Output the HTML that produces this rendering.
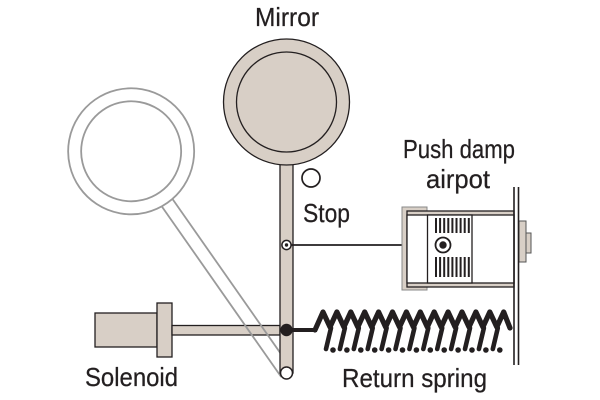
<!DOCTYPE html>
<html>
<head>
<meta charset="utf-8">
<style>
  html,body{margin:0;padding:0;background:#fff;}
  svg{display:block;}
  text{font-family:"Liberation Sans",sans-serif;font-size:26px;fill:#231f20;stroke:#231f20;stroke-width:0.25;}
</style>
</head>
<body>
<svg width="600" height="400" viewBox="0 0 600 400" xmlns="http://www.w3.org/2000/svg">
  <rect width="600" height="400" fill="#fff"/>

  <!-- Solenoid -->
  <rect x="95" y="313" width="62" height="34" fill="#d8cfc6" stroke="#231f20" stroke-width="1.3"/>
  <rect x="157" y="303" width="15" height="54" fill="#d8cfc6" stroke="#231f20" stroke-width="1.3"/>
  <rect x="172" y="325.5" width="108" height="9.5" fill="#d8cfc6" stroke="#231f20" stroke-width="1.3"/>

  <!-- Ghost mirror (rotated) -->
  <g transform="rotate(-35 287 373)" fill="none" stroke="#9a9a9a" stroke-width="1.8">
    <line x1="280" y1="164.5" x2="280" y2="373"/>
    <line x1="293" y1="164.5" x2="293" y2="373"/>
    <circle cx="286.5" cy="102" r="63" fill="#fff"/>
    <circle cx="286.5" cy="102" r="50"/>
  </g>

  <!-- Real stem -->
  <rect x="280" y="150" width="13" height="223" fill="#d8cfc6" stroke="#231f20" stroke-width="1.3"/>
  <!-- Mirror -->
  <circle cx="286.5" cy="102" r="63" fill="#d8cfc6" stroke="#231f20" stroke-width="1.3"/>
  <circle cx="286.5" cy="102" r="50" fill="#d8cfc6" stroke="#231f20" stroke-width="1.3"/>

  <!-- Bottom pivot -->
  <circle cx="286.5" cy="373" r="6" fill="#fff" stroke="#231f20" stroke-width="1.5"/>

  <!-- Stop -->
  <circle cx="311" cy="178" r="9" fill="none" stroke="#231f20" stroke-width="1.7"/>

  <!-- Damper link -->
  <line x1="291" y1="245" x2="436" y2="245" stroke="#231f20" stroke-width="1.8"/>
  <circle cx="286.5" cy="245" r="4.6" fill="#fff" stroke="#231f20" stroke-width="1.5"/>
  <circle cx="286.5" cy="245" r="1.7" fill="#231f20"/>

  <!-- Airpot -->
  <rect x="519" y="221" width="7" height="41" fill="#d8cfc6" stroke="#555" stroke-width="1"/>
  <rect x="526" y="233" width="5" height="20" fill="#d8cfc6" stroke="#555" stroke-width="1"/>
  <rect x="402" y="207" width="25" height="83" fill="#d8cfc6" stroke="#888" stroke-width="1"/>
  <rect x="407" y="211" width="107" height="76" fill="#d8cfc6" stroke="#231f20" stroke-width="1.3"/>
  <rect x="407" y="215" width="107" height="68" fill="#fff" stroke="#231f20" stroke-width="1.3"/>
  <rect x="427.5" y="215" width="44.5" height="68" fill="#fff" stroke="#231f20" stroke-width="1.3"/>
  <g stroke="#231f20" stroke-width="2">
    <line x1="436" y1="218" x2="436" y2="233"/><line x1="440.1" y1="218" x2="440.1" y2="233"/>
    <line x1="444.2" y1="218" x2="444.2" y2="233"/><line x1="448.3" y1="218" x2="448.3" y2="233"/>
    <line x1="452.4" y1="218" x2="452.4" y2="233"/><line x1="456.5" y1="218" x2="456.5" y2="233"/>
    <line x1="460.6" y1="218" x2="460.6" y2="233"/><line x1="464.7" y1="218" x2="464.7" y2="233"/>
    <line x1="468.8" y1="218" x2="468.8" y2="233"/>
    <line x1="436" y1="257" x2="436" y2="277"/><line x1="440.1" y1="257" x2="440.1" y2="277"/>
    <line x1="444.2" y1="257" x2="444.2" y2="277"/><line x1="448.3" y1="257" x2="448.3" y2="277"/>
    <line x1="452.4" y1="257" x2="452.4" y2="277"/><line x1="456.5" y1="257" x2="456.5" y2="277"/>
    <line x1="460.6" y1="257" x2="460.6" y2="277"/><line x1="464.7" y1="257" x2="464.7" y2="277"/>
    <line x1="468.8" y1="257" x2="468.8" y2="277"/>
  </g>
  <circle cx="443" cy="245" r="7.5" fill="#fff" stroke="#231f20" stroke-width="1.8"/>
  <circle cx="443" cy="245" r="3.7" fill="#231f20"/>
  <!-- Wall -->
  <line x1="514" y1="187" x2="514" y2="365" stroke="#231f20" stroke-width="1.6"/>
  <line x1="518.5" y1="187" x2="518.5" y2="365" stroke="#231f20" stroke-width="1.6"/>

  <!-- Spring -->
  <line x1="287" y1="330" x2="317" y2="330" stroke="#231f20" stroke-width="4"/>
  <circle cx="286.5" cy="330" r="6.2" fill="#231f20"/>
  <path d="M315 330 L323 312 L330 327 L336.9 312 L343.9 327 L350.8 312 L357.8 327 L364.7 312 L371.7 327 L378.6 312 L385.6 327 L392.5 312 L399.5 327 L406.4 312 L413.4 327 L420.3 312 L427.3 327 L434.2 312 L441.2 327 L448.1 312 L455.1 327 L462 312 L469 327 L475.9 312 L482.9 327 L489.8 312 L496.8 327 L503.7 312 L510 328"
        fill="none" stroke="#231f20" stroke-width="5.2" stroke-linejoin="round" stroke-linecap="round"/>
  <g stroke="#231f20" stroke-width="4.6" stroke-linecap="round">
    <line x1="331" y1="328" x2="326" y2="349"/>
    <line x1="344.9" y1="328" x2="339.9" y2="349"/>
    <line x1="358.8" y1="328" x2="353.8" y2="349"/>
    <line x1="372.7" y1="328" x2="367.7" y2="349"/>
    <line x1="386.6" y1="328" x2="381.6" y2="349"/>
    <line x1="400.5" y1="328" x2="395.5" y2="349"/>
    <line x1="414.4" y1="328" x2="409.4" y2="349"/>
    <line x1="428.3" y1="328" x2="423.3" y2="349"/>
    <line x1="442.2" y1="328" x2="437.2" y2="349"/>
    <line x1="456.1" y1="328" x2="451.1" y2="349"/>
    <line x1="470" y1="328" x2="465" y2="349"/>
    <line x1="483.9" y1="328" x2="478.9" y2="349"/>
    <line x1="497.8" y1="328" x2="492.8" y2="349"/>
  </g>
  <g fill="#231f20">
    <circle cx="333" cy="350" r="2.8"/><circle cx="346.9" cy="350" r="2.8"/>
    <circle cx="360.8" cy="350" r="2.8"/><circle cx="374.7" cy="350" r="2.8"/>
    <circle cx="388.6" cy="350" r="2.8"/><circle cx="402.5" cy="350" r="2.8"/>
    <circle cx="416.4" cy="350" r="2.8"/><circle cx="430.3" cy="350" r="2.8"/>
    <circle cx="444.2" cy="350" r="2.8"/><circle cx="458.1" cy="350" r="2.8"/>
    <circle cx="472" cy="350" r="2.8"/><circle cx="485.9" cy="350" r="2.8"/>
    <circle cx="499.8" cy="350" r="2.8"/>
  </g>

  <!-- Labels -->
  <text x="255" y="26" textLength="64" lengthAdjust="spacingAndGlyphs">Mirror</text>
  <text x="403" y="158" textLength="112" lengthAdjust="spacingAndGlyphs">Push damp</text>
  <text x="426" y="188" textLength="64" lengthAdjust="spacingAndGlyphs">airpot</text>
  <text x="303" y="222" textLength="47" lengthAdjust="spacingAndGlyphs">Stop</text>
  <text x="85" y="386" textLength="93" lengthAdjust="spacingAndGlyphs">Solenoid</text>
  <text x="342" y="387" textLength="145" lengthAdjust="spacingAndGlyphs">Return spring</text>
</svg>
</body>
</html>
